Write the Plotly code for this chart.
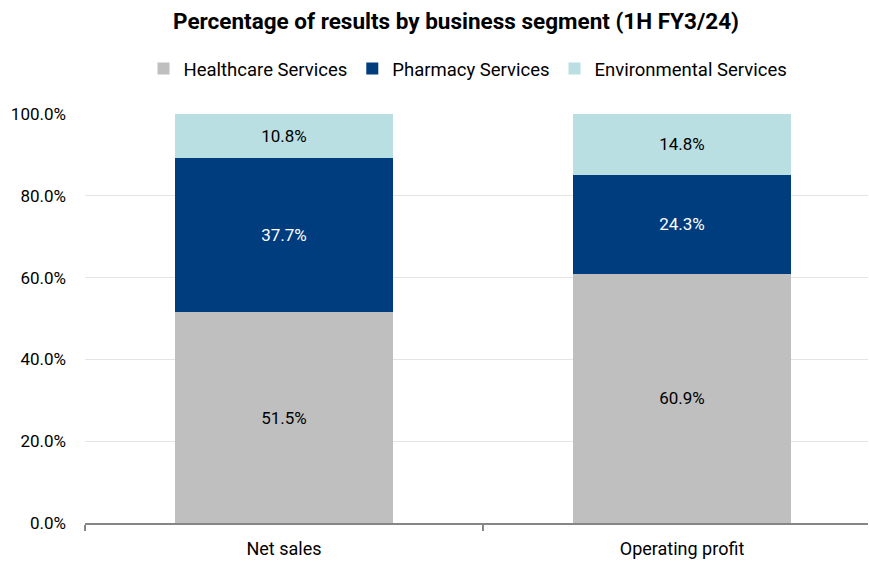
import plotly.graph_objects as go

categories = ["Net sales", "Operating profit"]
healthcare = [51.5, 60.9]
pharmacy = [37.7, 24.3]
environmental = [10.8, 14.8]
y_ticks = [0, 20, 40, 60, 80, 100]
y_tick_labels = ["0.0%", "20.0%", "40.0%", "60.0%", "80.0%", "100.0%"]

W, H = 869, 561
L, R, T, B = 85, 1, 114, 38
plot_h = H - T - B
plot_w = W - L - R

series = [
    ("Healthcare Services", healthcare, "#BFBFBF", "#000000"),
    ("Pharmacy Services", pharmacy, "#003D7E", "#FFFFFF"),
    ("Environmental Services", environmental, "#B9DFE3", "#000000"),
]

fig = go.Figure()
for name, vals, color, tcolor in series:
    fig.add_trace(go.Bar(
        x=categories, y=vals, name=name,
        marker=dict(color=color, line=dict(width=0)),
        width=0.55,
        texttemplate="%{y:.1f}%", textposition="inside",
        insidetextanchor="middle",
        textfont=dict(color=tcolor, size=17, family="Roboto"),
        hoverinfo="skip",
    ))

fig.update_layout(
    width=W, height=H,
    barmode="stack",
    margin=dict(l=L, r=R, t=T, b=B),
    paper_bgcolor="white", plot_bgcolor="white",
    font=dict(family="Roboto", size=17, color="#000000"),
    title=dict(text="<b>Percentage of results by business segment (1H FY3/24)</b>",
               x=456 / W, xanchor="center", y=1 - 21 / H, yanchor="middle",
               xref="container", yref="container",
               font=dict(size=22.5, family="Roboto", color="#000000")),
    legend=dict(orientation="h", x=(468 - L) / plot_w, xanchor="center",
                y=1 + (T - 69) / plot_h, yanchor="middle",
                font=dict(size=18.5, family="Roboto"),
                traceorder="normal", itemwidth=30),
    uniformtext=dict(mode="show", minsize=10),
)
fig.update_xaxes(
    range=[-0.5, (W - R - 284) / 398.0],
    showline=True, linecolor="#868686", linewidth=2,
    ticks="outside", tickson="boundaries", ticklen=6, tickwidth=2, tickcolor="#868686",
    tickfont=dict(size=18), showgrid=False, zeroline=False,
    ticklabelstandoff=8,
)
fig.update_yaxes(
    range=[0, 100], tickvals=y_ticks, ticktext=y_tick_labels,
    showgrid=True, gridcolor="#E4E4E4", gridwidth=1,
    showline=False, zeroline=False, ticks="",
    tickfont=dict(size=17), ticklabelstandoff=18,
)

fig.write_html("out.html")
